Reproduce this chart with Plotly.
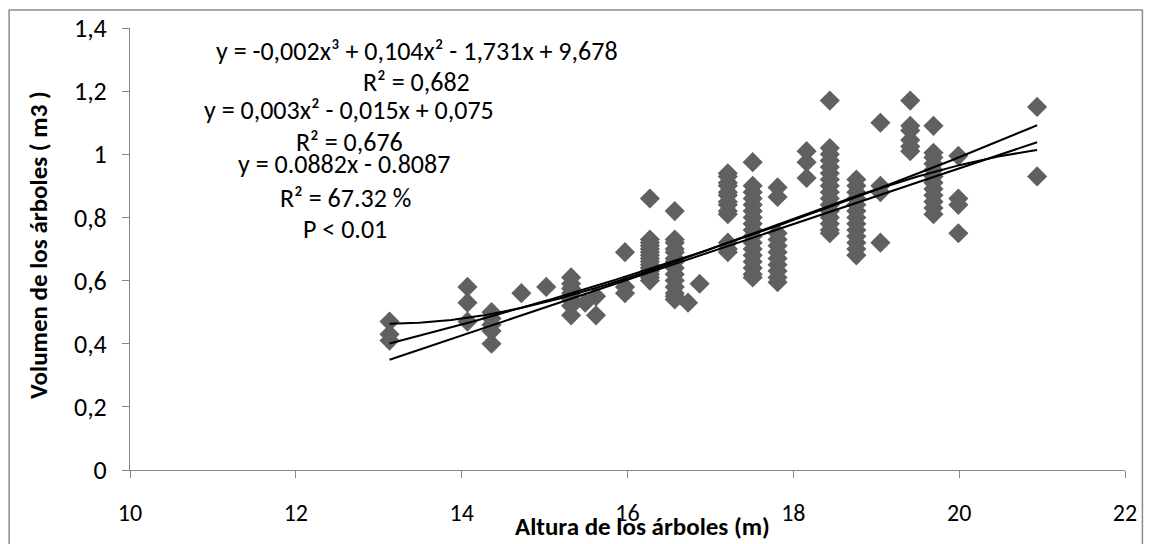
import numpy as np
import plotly.graph_objects as go

# ---- data ----
col_altura = [13.13, 14.07, 14.36, 14.72, 15.02, 15.32, 15.49, 15.62, 15.97, 16.27,
              16.57, 16.73, 16.87, 17.21, 17.51, 17.81, 18.16, 18.44, 18.76, 19.05,
              19.41, 19.69, 19.99, 20.94]
col_volumen = [
    [0.47, 0.43, 0.41],
    [0.58, 0.53, 0.47],
    [0.50, 0.48, 0.46, 0.44, 0.40],
    [0.56],
    [0.58],
    [0.61, 0.59, 0.575, 0.56, 0.54, 0.52, 0.49],
    [0.53],
    [0.55, 0.49],
    [0.69, 0.58, 0.56],
    [0.86, 0.73, 0.72, 0.71, 0.70, 0.69, 0.68, 0.67, 0.66, 0.65, 0.64, 0.63, 0.62, 0.61, 0.60],
    [0.82, 0.73, 0.72, 0.70, 0.69, 0.67, 0.66, 0.64, 0.62, 0.60, 0.58, 0.56, 0.55, 0.54],
    [0.53],
    [0.59],
    [0.94, 0.93, 0.91, 0.90, 0.88, 0.87, 0.85, 0.84, 0.82, 0.81, 0.72, 0.70, 0.69],
    [0.975, 0.90, 0.88, 0.86, 0.84, 0.82, 0.80, 0.78, 0.76, 0.74, 0.72, 0.70, 0.68, 0.66, 0.64, 0.62, 0.61],
    [0.895, 0.865, 0.75, 0.73, 0.71, 0.69, 0.67, 0.65, 0.63, 0.61, 0.595],
    [1.01, 0.975, 0.925],
    [1.17, 1.02, 1.00, 0.98, 0.96, 0.94, 0.92, 0.90, 0.88, 0.86, 0.84, 0.82, 0.80, 0.78, 0.76, 0.75],
    [0.92, 0.90, 0.88, 0.86, 0.84, 0.82, 0.80, 0.78, 0.76, 0.74, 0.72, 0.70, 0.68],
    [1.10, 0.90, 0.88, 0.72],
    [1.17, 1.09, 1.075, 1.045, 1.025, 1.01],
    [1.09, 1.005, 0.99, 0.97, 0.95, 0.93, 0.91, 0.89, 0.87, 0.85, 0.83, 0.81],
    [0.995, 0.86, 0.84, 0.75],
    [1.15, 0.93],
]

# trend-line coefficients (highest power first)
coef_lineal = [0.0882, -0.8087]
coef_cuad = [0.00284, -0.00826, 0.0197]
coef_cub = [-0.001706, 0.08949, -1.467258, 8.162354]

x_ticks = [10, 12, 14, 16, 18, 20, 22]
y_ticks = [0, 0.2, 0.4, 0.6, 0.8, 1.0, 1.2, 1.4]
y_ticktext = ["0", "0,2", "0,4", "0,6", "0,8", "1", "1,2", "1,4"]

ecuaciones = [
    "y = -0,002x³ + 0,104x² - 1,731x + 9,678",
    "R² = 0,682",
    "y = 0,003x² - 0,015x + 0,075",
    "R² = 0,676",
    "y = 0.0882x - 0.8087",
    "R² = 67.32 %",
    "P < 0.01",
]
ec_x = [13.46, 13.46, 12.64, 12.65, 12.58, 12.60, 12.59]
ec_y = [1.327, 1.229, 1.141, 1.040, 0.970, 0.863, 0.762]

# ---- build ----
altura = [a for a, vs in zip(col_altura, col_volumen) for _ in vs]
volumen = [v for vs in col_volumen for v in vs]

FONT = "Carlito, Lato, 'Open Sans', sans-serif"
GRAY = "#868686"
BORDER = "#8c8c8c"

fig = go.Figure()
fig.add_trace(go.Scatter(
    x=altura, y=volumen, mode="markers",
    marker=dict(symbol="diamond", size=15.5, color="#606060", line=dict(width=0)),
    showlegend=False, hoverinfo="x+y"))

xs = np.linspace(min(altura), max(altura), 200)
for coefs in (coef_cub, coef_cuad, coef_lineal):
    fig.add_trace(go.Scatter(x=xs, y=np.polyval(coefs, xs), mode="lines",
                             line=dict(color="black", width=2), showlegend=False,
                             hoverinfo="skip"))

for t, x, y in zip(ecuaciones, ec_x, ec_y):
    fig.add_annotation(x=x, y=y, xref="x", yref="y", text=t, showarrow=False,
                       font=dict(family=FONT, size=26, color="black"),
                       xanchor="center", yanchor="middle")

fig.add_annotation(x=0.515, y=-0.128, xref="paper", yref="paper",
                   text="<b>Altura de los árboles (m)</b>", showarrow=False,
                   font=dict(family=FONT, size=25, color="black"),
                   xanchor="center", yanchor="middle")
fig.add_annotation(x=-0.092, y=0.51, xref="paper", yref="paper",
                   text="<b>Volumen de los árboles ( m3 )</b>", showarrow=False,
                   textangle=-90,
                   font=dict(family=FONT, size=25, color="black"),
                   xanchor="center", yanchor="middle")

# chart-area border (top, left, right sides)
fig.add_shape(type="line", xref="paper", yref="paper",
              x0=-0.122, x1=1.018, y0=1.0406, y1=1.0406,
              line=dict(color=BORDER, width=1.5), layer="above")
fig.add_shape(type="line", xref="paper", yref="paper",
              x0=-0.1215, x1=-0.1215, y0=-0.3, y1=1.0406,
              line=dict(color=BORDER, width=1.5), layer="above")
fig.add_shape(type="line", xref="paper", yref="paper",
              x0=1.0175, x1=1.0175, y0=-0.3, y1=1.0406,
              line=dict(color=BORDER, width=1.5), layer="above")

fig.update_layout(
    width=1149, height=544,
    margin=dict(l=130, r=19, t=27, b=74),
    paper_bgcolor="white", plot_bgcolor="white",
    font=dict(family=FONT, size=26, color="black"),
    xaxis=dict(range=[10, 22], tickvals=x_ticks, showgrid=False, zeroline=False,
               showline=True, linecolor=GRAY, linewidth=1,
               ticks="outside", ticklen=7, tickcolor=GRAY,
               ticklabelstandoff=14, tickfont=dict(size=24)),
    yaxis=dict(range=[0, 1.4], tickvals=y_ticks, ticktext=y_ticktext,
               showgrid=False, zeroline=False,
               showline=True, linecolor=GRAY, linewidth=1,
               ticks="outside", ticklen=7, tickcolor=GRAY,
               ticklabelstandoff=10, tickfont=dict(size=26)),
)

fig.write_html("out.html", config={"displayModeBar": False},
               post_script="document.body.style.margin='0';document.body.style.overflow='hidden';")
